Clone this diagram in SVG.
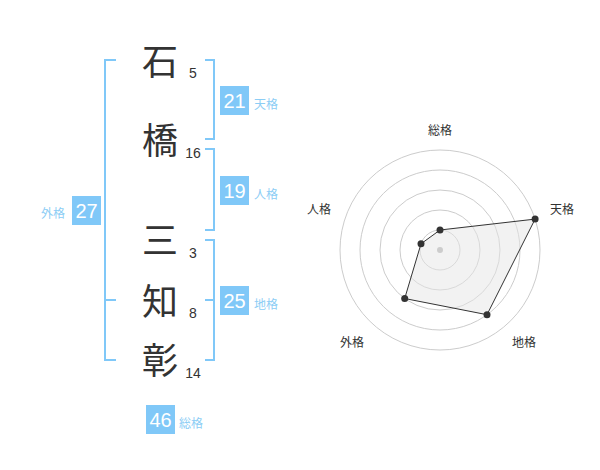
<svg xmlns="http://www.w3.org/2000/svg" width="600" height="470" viewBox="0 0 600 470">
<style>
.kanji{font-family:"Noto Sans CJK JP","Noto Sans CJK SC",sans-serif;font-size:36px;fill:#333;text-anchor:middle}
.stroke{font-family:"Liberation Sans",Arial,sans-serif;font-size:14px;fill:#333;text-anchor:middle}
.br{fill:none;stroke:#80c8f8;stroke-width:2}
.box{fill:#80c8f8}
.num{font-family:"Liberation Sans",Arial,sans-serif;font-size:20px;fill:#fff;text-anchor:middle}
.lbl{font-family:"Noto Sans CJK JP","Noto Sans CJK SC",sans-serif;font-size:12px;fill:#8ccdf5}
.rl{font-family:"Noto Sans CJK JP","Noto Sans CJK SC",sans-serif;font-size:12px;fill:#333;text-anchor:middle}
.ring{fill:none;stroke:#cccccc;stroke-width:1}
.pt{fill:#333}
</style>
<rect width="600" height="470" fill="#fff"/>
<g id="chars">
<text class="kanji" x="160" y="75">石</text>
<text class="kanji" x="160" y="154">橋</text>
<text class="kanji" x="160" y="254">三</text>
<text class="kanji" x="160" y="315">知</text>
<text class="kanji" x="160" y="374">彰</text>
<text class="stroke" x="193" y="78">5</text>
<text class="stroke" x="193" y="158">16</text>
<text class="stroke" x="193" y="258">3</text>
<text class="stroke" x="193" y="318">8</text>
<text class="stroke" x="193" y="378">14</text>
</g>
<g id="connectors">
<path class="br" d="M116,60 H105 V360 H116 M105,300 H116"/>
<path class="br" d="M205,60 H214 V139 H205"/>
<path class="br" d="M205,149 H214 V230 H205"/>
<path class="br" d="M205,240 H214 V360 H205 M205,300 H214"/>
</g>
<g id="tenkaku">
<rect class="box" x="220" y="86" width="29" height="29"/>
<text class="num" x="234.5" y="108">21</text>
<text class="lbl" x="254" y="109">天格</text>
</g>
<g id="jinkaku">
<rect class="box" x="220" y="176" width="29" height="29"/>
<text class="num" x="234.5" y="198">19</text>
<text class="lbl" x="254" y="199">人格</text>
</g>
<g id="chikaku">
<rect class="box" x="220" y="286" width="29" height="29"/>
<text class="num" x="234.5" y="308">25</text>
<text class="lbl" x="254" y="309">地格</text>
</g>
<g id="gaikaku">
<rect class="box" x="72" y="196" width="29" height="29"/>
<text class="num" x="86.5" y="218">27</text>
<text class="lbl" x="41" y="218">外格</text>
</g>
<g id="soukaku">
<rect class="box" x="146" y="405" width="29" height="29"/>
<text class="num" x="160.5" y="427">46</text>
<text class="lbl" x="179" y="428">総格</text>
</g>
<g id="radar">
<circle class="ring" cx="440" cy="250" r="20"/>
<circle class="ring" cx="440" cy="250" r="40"/>
<circle class="ring" cx="440" cy="250" r="60"/>
<circle class="ring" cx="440" cy="250" r="80"/>
<circle class="ring" cx="440" cy="250" r="100"/>
<polygon points="440,230 535.1,219.1 487,314.7 404.7,298.5 421,243.8" fill="#e6e6e6" fill-opacity="0.5" stroke="#333" stroke-width="1"/>
<circle cx="440" cy="250" r="3" fill="#cccccc"/>
<circle class="pt" cx="440" cy="230" r="3.5"/>
<circle class="pt" cx="535.1" cy="219.1" r="3.5"/>
<circle class="pt" cx="487" cy="314.7" r="3.5"/>
<circle class="pt" cx="404.7" cy="298.5" r="3.5"/>
<circle class="pt" cx="421" cy="243.8" r="3.5"/>
<text class="rl" x="440" y="135">総格</text>
<text class="rl" x="562" y="214">天格</text>
<text class="rl" x="524" y="347">地格</text>
<text class="rl" x="352" y="347">外格</text>
<text class="rl" x="319" y="214">人格</text>
</g>
</svg>
